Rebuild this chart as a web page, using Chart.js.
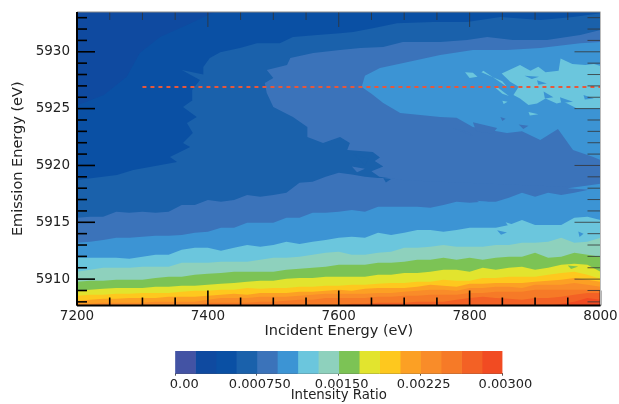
<!DOCTYPE html>
<html>
<head>
<meta charset="utf-8">
<title>Intensity ratio map</title>
<script src="https://cdn.jsdelivr.net/npm/chart.js@4"></script>
<style>
    html, body { margin: 0; padding: 0; background: #fff; }
    #wrap { position: relative; width: 619px; height: 404px; overflow: hidden; }
    canvas { position: absolute; left: 0; }
</style>
</head>
<body>
<div id="wrap">
    <canvas id="mapChart" width="619" height="404" style="top:0"></canvas>
    <canvas id="barChart" width="619" height="64" style="top:340px"></canvas>
</div>
<script>
// ============================================
// DATA
// ============================================

const levelColors = ['#4353a4', '#0f4aa0', '#0a50a4', '#1a61ab', '#3b73ba', '#3c94d4', '#6bc6dd', '#8ed1bd',
    '#7cc355', '#e2e42e', '#fec81e', '#fca024', '#f98c29', '#f67a27', '#f36125', '#f14b22'];
const levelStep = 0.0001875;

const xTickValues = [7200, 7400, 7600, 7800, 8000];
const yTickValues = [5910, 5915, 5920, 5925, 5930];
const barTickValues = [0, 0.00075, 0.0015, 0.00225, 0.003];
const barTickLabels = ['   0.00', '0.000750', '0.00150', '0.00225', '0.00300'];

// sampling of the lower contour edges, eV
const incidentEnergy = [7200, 7220, 7240, 7260, 7280, 7300, 7320, 7340, 7360, 7380, 7400, 7420, 7440, 7460,
    7480, 7500, 7520, 7540, 7560, 7580, 7600, 7620, 7640, 7660, 7680, 7700, 7720, 7740, 7760, 7780, 7800,
    7820, 7840, 7860, 7880, 7900, 7920, 7940, 7960, 7980, 8000];

// emission energy of the upper edge of each level, bands along the bottom
const edge4 = [5915.39, 5915.48, 5915.48, 5915.92, 5915.83, 5915.92, 5915.83, 5915.92, 5916.53, 5916.53, 5916.97, 5916.80, 5916.97, 5917.41, 5917.24, 5917.41, 5917.59, 5918.47, 5918.56, 5919.00, 5919.35, 5919.2, 5919.0, 5918.9, 5918.9, 5918.8, 5918.8, 5918.8, 5918.8, 5918.8, 5918.8, 5918.8, 5918.8, 5918.8, 5918.8, 5918.8, 5918.8, 5918.8, 5918.8, 5918.8, 5918.8];
const edge5 = [5913.19, 5913.28, 5913.45, 5913.63, 5913.63, 5913.72, 5913.81, 5913.81, 5913.89, 5914.07, 5914.16, 5914.51, 5914.51, 5914.95, 5914.95, 5914.95, 5915.39, 5915.39, 5915.83, 5915.83, 5915.92, 5916.09, 5915.92, 5916.36, 5916.36, 5916.36, 5916.36, 5916.27, 5916.53, 5916.80, 5916.71, 5916.80, 5916.80, 5917.15, 5917.59, 5917.24, 5917.59, 5917.41, 5917.59, 5917.85, 5918.03];
const edge6 = [5911.87, 5911.87, 5911.87, 5911.87, 5911.79, 5911.96, 5912.14, 5912.14, 5912.58, 5912.75, 5912.75, 5912.49, 5912.75, 5913.01, 5912.84, 5913.01, 5913.28, 5913.10, 5913.28, 5913.45, 5913.63, 5913.72, 5913.63, 5914.07, 5913.89, 5914.07, 5914.33, 5914.33, 5914.16, 5914.33, 5914.51, 5914.51, 5914.51, 5914.77, 5915.21, 5914.77, 5914.77, 5914.77, 5915.39, 5915.48, 5915.21];
const edge7 = [5910.64, 5910.82, 5910.99, 5910.99, 5910.99, 5911.08, 5911.08, 5911.08, 5911.43, 5911.43, 5911.43, 5911.52, 5911.52, 5911.52, 5911.70, 5911.87, 5911.87, 5911.96, 5912.14, 5912.31, 5912.40, 5912.14, 5912.14, 5912.31, 5912.40, 5912.75, 5912.75, 5912.84, 5913.01, 5912.84, 5912.84, 5912.84, 5913.01, 5913.01, 5913.19, 5913.19, 5913.28, 5913.63, 5913.19, 5913.28, 5913.63];
const edge8 = [5909.76, 5909.85, 5909.85, 5909.94, 5909.94, 5909.94, 5910.11, 5910.20, 5910.20, 5910.38, 5910.47, 5910.55, 5910.64, 5910.64, 5910.64, 5910.64, 5910.82, 5910.91, 5910.99, 5911.08, 5911.26, 5911.26, 5911.26, 5911.43, 5911.43, 5911.52, 5911.70, 5911.70, 5911.87, 5911.70, 5911.87, 5911.70, 5911.87, 5911.96, 5911.96, 5912.31, 5911.87, 5911.96, 5912.31, 5912.14, 5911.96];
const edge9 = [5908.97, 5909.06, 5909.15, 5909.23, 5909.23, 5909.23, 5909.32, 5909.32, 5909.41, 5909.41, 5909.50, 5909.59, 5909.67, 5909.76, 5909.85, 5909.85, 5910.03, 5910.11, 5910.11, 5910.20, 5910.20, 5910.20, 5910.20, 5910.38, 5910.38, 5910.55, 5910.55, 5910.64, 5910.82, 5910.82, 5910.64, 5910.99, 5910.82, 5910.99, 5911.08, 5910.82, 5910.99, 5911.26, 5911.35, 5911.26, 5910.64];
const edge10 = [5908.53, 5908.62, 5908.62, 5908.71, 5908.71, 5908.79, 5908.79, 5908.79, 5908.88, 5908.97, 5908.97, 5909.06, 5909.06, 5909.23, 5909.15, 5909.23, 5909.23, 5909.32, 5909.32, 5909.41, 5909.41, 5909.50, 5909.50, 5909.59, 5909.67, 5909.67, 5909.76, 5909.76, 5909.94, 5909.85, 5909.85, 5910.11, 5910.11, 5910.20, 5910.20, 5910.20, 5910.38, 5910.55, 5910.64, 5910.38, 5910.03];
const edge11 = [5908.09, 5908.18, 5908.27, 5908.27, 5908.35, 5908.35, 5908.35, 5908.44, 5908.44, 5908.44, 5908.53, 5908.62, 5908.71, 5908.62, 5908.79, 5908.79, 5908.79, 5908.88, 5908.88, 5908.97, 5909.06, 5908.97, 5909.15, 5909.23, 5909.23, 5909.23, 5909.32, 5909.50, 5909.41, 5909.32, 5909.59, 5909.59, 5909.67, 5909.67, 5909.67, 5909.76, 5909.85, 5909.94, 5910.11, 5909.94, 5909.76];
const edge12 = [5907.83, 5907.83, 5907.92, 5907.92, 5907.92, 5907.92, 5908.00, 5908.00, 5908.00, 5908.00, 5908.18, 5908.35, 5908.35, 5908.35, 5908.44, 5908.44, 5908.44, 5908.53, 5908.62, 5908.71, 5908.71, 5908.71, 5908.71, 5908.79, 5908.79, 5908.88, 5908.97, 5909.06, 5909.06, 5908.97, 5909.23, 5909.23, 5909.32, 5909.32, 5909.23, 5909.50, 5909.50, 5909.50, 5909.67, 5909.50, 5909.32];
const edge13 = [5907.65, 5907.65, 5907.65, 5907.65, 5907.65, 5907.65, 5907.65, 5907.65, 5907.65, 5907.65, 5907.92, 5907.92, 5907.92, 5907.92, 5908.00, 5908.00, 5908.09, 5908.18, 5908.18, 5908.35, 5908.35, 5908.35, 5908.35, 5908.44, 5908.44, 5908.53, 5908.53, 5908.62, 5908.62, 5908.62, 5908.79, 5908.79, 5908.88, 5908.88, 5908.88, 5909.06, 5909.06, 5909.06, 5909.06, 5909.06, 5909.06];
const edge14 = [5907.65, 5907.65, 5907.65, 5907.65, 5907.65, 5907.65, 5907.65, 5907.65, 5907.65, 5907.65, 5907.65, 5907.65, 5907.65, 5907.65, 5907.65, 5907.65, 5907.65, 5907.65, 5907.65, 5907.65, 5907.65, 5907.83, 5907.83, 5907.92, 5907.92, 5907.92, 5908.00, 5908.00, 5908.00, 5908.18, 5908.35, 5908.44, 5908.35, 5908.27, 5908.18, 5908.35, 5908.35, 5908.44, 5908.62, 5908.79, 5908.79];
const edge15 = [5907.65, 5907.65, 5907.65, 5907.65, 5907.65, 5907.65, 5907.65, 5907.65, 5907.65, 5907.65, 5907.65, 5907.65, 5907.65, 5907.65, 5907.65, 5907.65, 5907.65, 5907.65, 5907.65, 5907.65, 5907.65, 5907.65, 5907.65, 5907.65, 5907.65, 5907.65, 5907.65, 5907.65, 5907.65, 5907.65, 5907.65, 5907.65, 5907.65, 5907.65, 5907.65, 5907.65, 5907.65, 5907.83, 5908.00, 5908.35, 5908.18];

// closed contour outlines, [incident eV, emission eV]
const outline1 = [[7200, 5933.6], [8000, 5933.6], [8000, 5907.6], [7200, 5907.6]];
const outline2 = [[7200, 5925.3], [7241, 5926.2], [7276, 5927.8], [7296, 5929.89], [7327, 5931.29], [7368, 5932.35], [7414, 5933.6], [8000, 5933.6], [8000, 5907.6], [7200, 5907.6]];
const outline3 = [[7200, 5918.73], [7261, 5919.17], [7286, 5919.6], [7353, 5920.31], [7342, 5920.75], [7373, 5921.63], [7362, 5921.98], [7377, 5922.86], [7368, 5923.73], [7383, 5924.26], [7362, 5925.14], [7377, 5925.76], [7376, 5926.63], [7388, 5927.51], [7360, 5928.4], [7393, 5928.0], [7393, 5928.66], [7403, 5929.45], [7419, 5929.97], [7449, 5930.33], [7475, 5930.76], [7510, 5930.76], [7530, 5931.29], [7567, 5931.47], [7602, 5931.64], [7622, 5931.73], [7652, 5932.08], [7689, 5932.52], [7744, 5932.61], [7796, 5932.61], [7847, 5933.05], [7908, 5932.79], [7958, 5933.05], [8000, 5933.40], [8000, 5907.6], [7200, 5907.6]];
const outline4 = [[7490, 5926.37], [7487, 5927.25], [7500, 5927.69], [7490, 5928.39], [7521, 5928.83], [7526, 5929.45], [7561, 5929.89], [7602, 5930.15], [7633, 5930.33], [7668, 5930.41], [7698, 5930.85], [7755, 5930.85], [7796, 5931.03], [7827, 5931.29], [7866, 5931.03], [7918, 5931.03], [7969, 5931.47], [8000, 5931.91], [8000, 5918.0], [7700, 5918.7], [7662, 5919.0], [7650, 5919.5], [7668, 5919.9], [7655, 5920.4], [7663, 5920.7], [7652, 5921.19], [7613, 5921.36], [7617, 5921.98], [7602, 5922.5], [7576, 5921.98], [7552, 5922.5], [7552, 5923.38], [7530, 5924.26], [7500, 5925.14]];
const outline5 = [[7640, 5927.9], [7663, 5928.57], [7704, 5929.09], [7755, 5929.71], [7805, 5930.15], [7857, 5930.15], [7908, 5930.33], [7969, 5930.76], [8000, 5930.85], [8000, 5920.48], [7989, 5920.75], [7958, 5921.36], [7935, 5923.2], [7908, 5922.24], [7880, 5923.0], [7857, 5922.86], [7805, 5923.38], [7780, 5924.2], [7755, 5924.26], [7694, 5924.61], [7668, 5925.49], [7650, 5926.3], [7635, 5926.9]];
const outline6 = [[7849, 5928.1], [7877, 5928.83], [7893, 5928.33], [7905, 5928.69], [7916, 5928.19], [7936, 5928.33], [7939, 5929.42], [7957, 5928.92], [7977, 5928.83], [7990, 5928.92], [8000, 5928.74], [8000, 5925.02], [7964, 5925.02], [7944, 5925.61], [7933, 5925.46], [7916, 5925.9], [7903, 5925.46], [7890, 5925.32], [7877, 5925.9], [7867, 5926.2], [7875, 5926.93], [7862, 5927.37]];
const patch6a = [[7793, 5928.2], [7805, 5928.15], [7812, 5927.8], [7800, 5927.7]];
const patch6b = [[7821, 5928.33], [7857, 5926.93], [7850, 5927.4], [7818, 5928.2]];
const patch6c = [[7842, 5926.9], [7860, 5926.1], [7850, 5926.3], [7838, 5926.9]];
const patch6d = [[7890, 5924.7], [7905, 5924.5], [7892, 5924.4]];
const patch6e = [[7850, 5925.7], [7858, 5925.6], [7852, 5925.4]];
const hole5a = [[7884, 5927.9], [7906, 5927.8], [7895, 5927.6]];
const hole5b = [[7903, 5927.5], [7918, 5927.2], [7905, 5927.1]];
const hole5c = [[7913, 5926.5], [7928, 5926.0], [7915, 5925.9]];
const hole5d = [[7938, 5926.0], [7958, 5925.6], [7940, 5925.5]];
const hole5e = [[7974, 5926.2], [7990, 5925.9], [7976, 5925.8]];
const hole4a = [[7847, 5924.26], [7855, 5924.1], [7850, 5923.9]];
const hole4b = [[7775, 5923.3], [7805, 5922.6], [7800, 5922.9]];
const hole4c = [[7805, 5923.8], [7842, 5923.3], [7835, 5922.8], [7810, 5923.0]];
const hole4d = [[7875, 5923.6], [7890, 5923.5], [7882, 5923.2]];
const hole3a = [[7622, 5921.0], [7645, 5920.6], [7640, 5920.0]];
const hole3b = [[7668, 5918.9], [7680, 5918.8], [7672, 5918.5]];
const patch4a = [[7620, 5919.9], [7640, 5919.7], [7628, 5919.4]];
const patch5a = [[7950, 5918.0], [8000, 5918.4], [8000, 5917.8]];
const patch5b = [[7811, 5916.9], [7828, 5916.8], [7820, 5916.6]];
const bite5a = [[7842, 5914.3], [7857, 5914.1], [7848, 5913.9]];
const bite5b = [[7966, 5914.2], [7974, 5914.0], [7968, 5913.7]];
const patch6f = [[7855, 5915.0], [7866, 5914.8], [7860, 5914.6]];
const bite8a = [[7950, 5911.2], [7966, 5911.1], [7955, 5910.9]];

// dashed marker line
const markerX = [7300, 8000];
const markerY = [5926.9, 5926.9];

// ============================================
// HELPERS
// ============================================

function edgeDataset(edge, level) {
    return {
        data: edge.map((y, i) => ({ x: incidentEnergy[i], y: y })),
        showLine: true, pointRadius: 0, borderWidth: 0,
        fill: 'start', backgroundColor: levelColors[level]
    };
}

function shapeDataset(outline, level) {
    return {
        data: outline.concat([outline[0]]).map(p => ({ x: p[0], y: p[1] })),
        showLine: true, pointRadius: 0, borderWidth: 0,
        fill: 'shape', backgroundColor: levelColors[level]
    };
}

// inward ticks and frame, drawn through the chart's scales
const frameTicks = {
    id: 'frameTicks',
    afterDatasetsDraw(chart) {
        const { ctx, chartArea: a, scales: { x, y } } = chart;
        const line = (x1, y1, x2, y2, width, color) => {
            ctx.beginPath();
            ctx.moveTo(x1, y1);
            ctx.lineTo(x2, y2);
            ctx.lineWidth = width;
            ctx.strokeStyle = color;
            ctx.stroke();
        };
        ctx.save();
        for (let v = 7200; v <= 8000; v += 50) {
            const px = x.getPixelForValue(v);
            const major = v % 200 === 0;
            line(px, a.bottom, px, a.bottom - (major ? 15 : 8), 1.6, '#000');
            line(px, a.top, px, a.top + (major ? 15 : 8), 0.8, '#333');
        }
        for (let v = 5908; v <= 5933; v += 1) {
            const py = y.getPixelForValue(v);
            const major = v % 5 === 0;
            line(a.left, py, a.left + (major ? 18 : 10), py, 1.6, '#000');
            line(a.right, py, a.right - (major ? 26 : 13), py, 0.8, '#333');
        }
        line(a.left, a.top, a.right, a.top, 1, '#888');
        line(a.right, a.top, a.right, a.bottom, 1, '#bbb');
        line(a.left, a.top, a.left, a.bottom, 2, '#000');
        line(a.left, a.bottom, a.right, a.bottom, 2, '#000');
        ctx.restore();
    }
};

// ============================================
// MAP CHART
// ============================================

const layers = [
    shapeDataset(outline1, 1),
    shapeDataset(outline2, 2),
    shapeDataset(outline3, 3),
    edgeDataset(edge4, 4),
    shapeDataset(outline4, 4),
    shapeDataset(hole3a, 3),
    shapeDataset(hole3b, 3),
    shapeDataset(patch4a, 4),
    edgeDataset(edge5, 5),
    shapeDataset(outline5, 5),
    shapeDataset(patch5a, 5),
    shapeDataset(patch5b, 5),
    shapeDataset(hole4a, 4),
    shapeDataset(hole4b, 4),
    shapeDataset(hole4c, 4),
    shapeDataset(hole4d, 4),
    shapeDataset(outline6, 6),
    shapeDataset(patch6a, 6),
    shapeDataset(patch6b, 6),
    shapeDataset(patch6c, 6),
    shapeDataset(patch6d, 6),
    shapeDataset(patch6e, 6),
    shapeDataset(patch6f, 6),
    shapeDataset(hole5a, 5),
    shapeDataset(hole5b, 5),
    shapeDataset(hole5c, 5),
    shapeDataset(hole5d, 5),
    shapeDataset(hole5e, 5),
    edgeDataset(edge6, 6),
    shapeDataset(bite5a, 5),
    shapeDataset(bite5b, 5),
    edgeDataset(edge7, 7),
    edgeDataset(edge8, 8),
    edgeDataset(edge9, 9),
    shapeDataset(bite8a, 8),
    edgeDataset(edge10, 10),
    edgeDataset(edge11, 11),
    edgeDataset(edge12, 12),
    edgeDataset(edge13, 13),
    edgeDataset(edge14, 14),
    edgeDataset(edge15, 15),
    {
        data: markerX.map((x, i) => ({ x: x, y: markerY[i] })),
        showLine: true, pointRadius: 0, fill: false,
        borderColor: '#e8573a', borderWidth: 2, borderDash: [4, 4]
    }
];
layers.forEach((d, i) => { d.order = layers.length - i; });

const tickFont = { family: 'DejaVu Sans', size: 13.5 };
const titleFont = { family: 'DejaVu Sans', size: 14.5 };

new Chart(document.getElementById('mapChart'), {
    type: 'scatter',
    data: { datasets: layers },
    options: {
        responsive: false,
        animation: false,
        events: [],
        layout: { padding: { top: 12, right: 18.5, left: 0, bottom: 0 } },
        plugins: { legend: { display: false }, tooltip: { enabled: false } },
        scales: {
            x: {
                type: 'linear', min: 7200, max: 8000,
                afterBuildTicks: s => { s.ticks = xTickValues.map(v => ({ value: v })); },
                afterFit: s => { s.height = 98.5; s.paddingLeft = 0; s.paddingRight = 0; },
                grid: { display: false, drawTicks: false, tickLength: 0 },
                border: { display: false },
                ticks: { color: '#222', font: tickFont, padding: 3, maxRotation: 0, autoSkip: false, callback: v => String(v) },
                title: { display: true, text: 'Incident Energy (eV)', color: '#222', font: titleFont, padding: { top: 0, bottom: 64 } }
            },
            y: {
                type: 'linear', min: 5907.68, max: 5933.5,
                afterBuildTicks: s => { s.ticks = yTickValues.map(v => ({ value: v })); },
                afterFit: s => { s.width = 77; s.paddingTop = 0; s.paddingBottom = 0; },
                grid: { display: false, drawTicks: false, tickLength: 0 },
                border: { display: false },
                ticks: { color: '#222', font: tickFont, padding: 7, autoSkip: false, callback: v => String(v) },
                title: { display: true, text: 'Emission Energy (eV)', color: '#222', font: titleFont, padding: { top: 10, bottom: 0 } }
            }
        }
    },
    plugins: [frameTicks]
});

// ============================================
// COLOUR BAR
// ============================================

new Chart(document.getElementById('barChart'), {
    type: 'bar',
    data: {
        labels: ['Intensity Ratio'],
        datasets: levelColors.map(c => ({
            data: [levelStep], backgroundColor: c, borderWidth: 0,
            barPercentage: 1, categoryPercentage: 1
        }))
    },
    options: {
        indexAxis: 'y',
        responsive: false,
        animation: false,
        events: [],
        layout: { padding: { top: 11, right: 116.5, left: 175, bottom: 0 } },
        plugins: { legend: { display: false }, tooltip: { enabled: false } },
        scales: {
            x: {
                stacked: true, min: 0, max: 0.003,
                afterBuildTicks: s => { s.ticks = barTickValues.map(v => ({ value: v })); },
                afterFit: s => { s.height = 30.3; },
                grid: { drawOnChartArea: false, tickLength: 2, tickColor: '#555' },
                border: { color: '#555', width: 1 },
                ticks: {
                    color: '#222', font: { family: 'DejaVu Sans', size: 13 }, padding: 1, labelOffset: 3,
                    maxRotation: 0, autoSkip: false,
                    callback: (v, i) => barTickLabels[i]
                },
                title: { display: true, text: 'Intensity Ratio', color: '#222', font: { family: 'DejaVu Sans', size: 13.3 }, padding: 0 }
            },
            y: { stacked: true, display: false }
        }
    }
});
</script>
</body>
</html>
